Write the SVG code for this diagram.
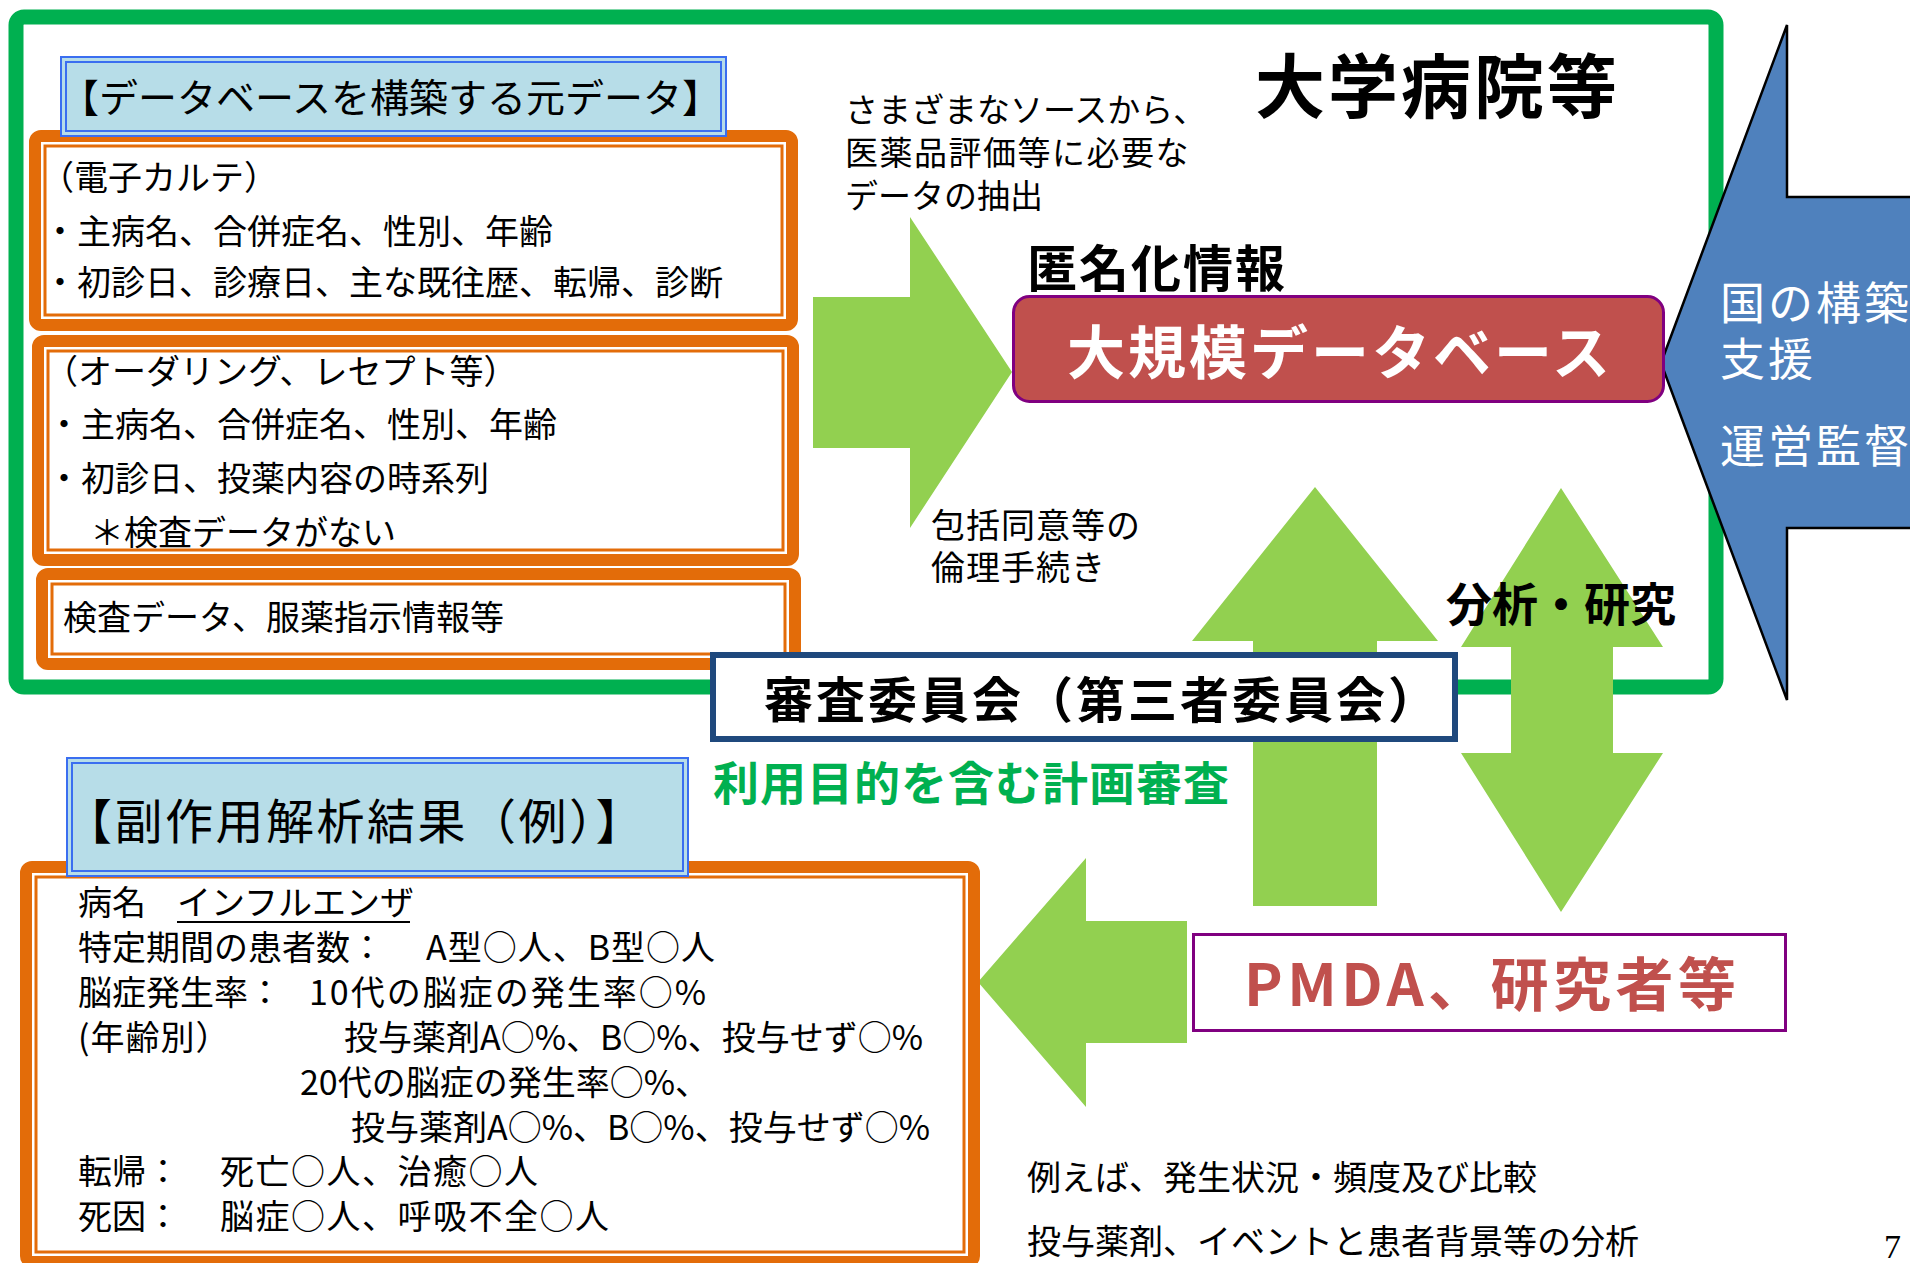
<svg xmlns="http://www.w3.org/2000/svg" width="1910" height="1263" viewBox="0 0 1910 1263">
<style>
  text { font-family: "Noto Sans CJK JP", "Noto Sans", sans-serif; fill: #000; }
  .b { font-weight: bold; }
  .t34 { font-size: 34px; }
  .ob { fill: #fff; stroke: #E36C09; stroke-width: 12; }
  .ib { fill: none; stroke: #E36C09; stroke-width: 3; }
  .hd { fill: #B7DDE8; stroke: #3A6EF0; stroke-width: 2; }
  .hdi { fill: none; stroke: #3A6EF0; stroke-width: 2; }
  .arrow { fill: #92D050; }
  .w { fill: #fff; }
</style>

<g id="hospital">
  <rect x="16" y="17" width="1700" height="670" rx="8" fill="#fff" stroke="#00B050" stroke-width="15"/>
  <text class="b" x="1255" y="113" font-size="70" letter-spacing="3">大学病院等</text>
  <text font-size="33"><tspan x="845" y="122">さまざまなソースから、</tspan><tspan x="845" y="165" letter-spacing="1.5">医薬品評価等に必要な</tspan><tspan x="845" y="208">データの抽出</tspan></text>
  <text font-size="34" letter-spacing="1"><tspan x="931" y="538">包括同意等の</tspan><tspan x="931" y="580">倫理手続き</tspan></text>
</g>

<g id="emr-box">
  <rect class="ob" x="35" y="136" width="757" height="189" rx="6"/>
  <rect class="ib" x="45" y="146" width="737" height="169"/>
  <text class="t34" x="40" y="190">（電子カルテ）</text>
  <text class="t34" x="43" y="244">・主病名、合併症名、性別、年齢</text>
  <text class="t34" x="43" y="295">・初診日、診療日、主な既往歴、転帰、診断</text>
</g>

<g id="ordering-box">
  <rect class="ob" x="38" y="341" width="755" height="219" rx="6"/>
  <rect class="ib" x="48" y="351" width="735" height="199"/>
  <text class="t34" x="44" y="384">（オーダリング、レセプト等）</text>
  <text class="t34" x="47" y="437">・主病名、合併症名、性別、年齢</text>
  <text class="t34" x="47" y="491">・初診日、投薬内容の時系列</text>
  <text class="t34" x="90" y="545">＊検査データがない</text>
</g>

<g id="lab-box">
  <rect class="ob" x="42" y="574" width="753" height="90" rx="6"/>
  <rect class="ib" x="52" y="584" width="733" height="70"/>
  <text class="t34" x="63" y="630">検査データ、服薬指示情報等</text>
</g>

<g id="source-header">
  <rect class="hd" x="61" y="57" width="665" height="79"/>
  <rect class="hdi" x="66" y="62" width="655" height="69"/>
  <text x="60" y="112" font-size="39">【データベースを構築する元データ】</text>
</g>

<g id="gov-arrow">
  <polygon points="1661,363 1787,25 1787,197 1920,197 1920,528 1787,528 1787,700" fill="#4F81BD" stroke="#000" stroke-width="2.5"/>
  <text class="w" font-size="45" letter-spacing="3"><tspan x="1720" y="320">国の構築</tspan><tspan x="1720" y="376">支援</tspan><tspan x="1720" y="463">運営監督</tspan></text>
</g>

<g id="connectors">
  <polygon class="arrow" points="813,297 910,297 910,217 1012,372 910,528 910,448 813,448"/>
  <polygon class="arrow" points="1315,487 1438,641 1377,641 1377,906 1253,906 1253,641 1192,641"/>
  <polygon class="arrow" points="1561,488 1663,647 1613,647 1613,753 1663,753 1561,912 1461,753 1511,753 1511,647 1461,647"/>
  <polygon class="arrow" points="978,982 1086,858 1086,921 1187,921 1187,1043 1086,1043 1086,1107"/>
</g>

<g id="database">
  <text class="b" x="1027" y="287" font-size="50" letter-spacing="2">匿名化情報</text>
  <rect x="1013.5" y="296.5" width="650" height="105" rx="16" fill="#C0504D" stroke="#800080" stroke-width="3"/>
  <text class="b w" x="1067" y="374" font-size="58" letter-spacing="3">大規模データベース</text>
</g>

<g id="analysis-label">
  <text class="b" x="1446" y="621" font-size="46">分析・研究</text>
</g>

<g id="committee">
  <rect x="713" y="655" width="742" height="84" fill="#fff" stroke="#1F497D" stroke-width="6"/>
  <text class="b" x="764" y="718" font-size="49" letter-spacing="3">審査委員会（第三者委員会）</text>
  <text class="b" x="713" y="800" font-size="46" letter-spacing="1" style="fill:#00B050">利用目的を含む計画審査</text>
</g>

<g id="result-box">
  <rect class="ob" x="26" y="867" width="948" height="395" rx="6"/>
  <rect class="ib" x="36" y="877" width="928" height="375"/>
  <text class="t34" x="78" y="915">病名</text>
  <text class="t34" x="177" y="915">インフルエンザ</text>
  <line x1="177" y1="922" x2="410" y2="922" stroke="#000" stroke-width="2"/>
  <text class="t34" x="78" y="960">特定期間の患者数：</text>
  <text class="t34" x="426" y="960" letter-spacing="1">A型○人、B型○人</text>
  <text class="t34" x="78" y="1005">脳症発生率：</text>
  <text class="t34" x="309" y="1005" letter-spacing="2">10代の脳症の発生率○%</text>
  <text class="t34" x="78" y="1050" letter-spacing="1">(年齢別）</text>
  <text class="t34" x="344" y="1050">投与薬剤A○%、B○%、投与せず○%</text>
  <text class="t34" x="300" y="1095">20代の脳症の発生率○%、</text>
  <text class="t34" x="351" y="1140">投与薬剤A○%、B○%、投与せず○%</text>
  <text class="t34" x="78" y="1184">転帰：</text>
  <text class="t34" x="220" y="1184" letter-spacing="1.5">死亡○人、治癒○人</text>
  <text class="t34" x="78" y="1229">死因：</text>
  <text class="t34" x="220" y="1229" letter-spacing="1.5">脳症○人、呼吸不全○人</text>
</g>

<g id="result-header">
  <rect class="hd" x="67" y="758" width="621" height="118"/>
  <rect class="hdi" x="72" y="763" width="611" height="108"/>
  <text x="64" y="839" font-size="48" letter-spacing="2.5">【副作用解析結果（例）】</text>
</g>

<g id="pmda">
  <rect x="1193.5" y="934.5" width="592" height="96" fill="#fff" stroke="#800080" stroke-width="3"/>
  <text class="b" x="1244" y="1006" font-size="58" letter-spacing="4.5" style="fill:#C0504D">PMDA、研究者等</text>
</g>

<g id="notes">
  <text class="t34" x="1027" y="1190">例えば、発生状況・頻度及び比較</text>
  <text class="t34" x="1027" y="1254">投与薬剤、イベントと患者背景等の分析</text>
  <text x="1884" y="1258" font-size="34" style="font-family:'Liberation Serif', serif">7</text>
</g>
</svg>
